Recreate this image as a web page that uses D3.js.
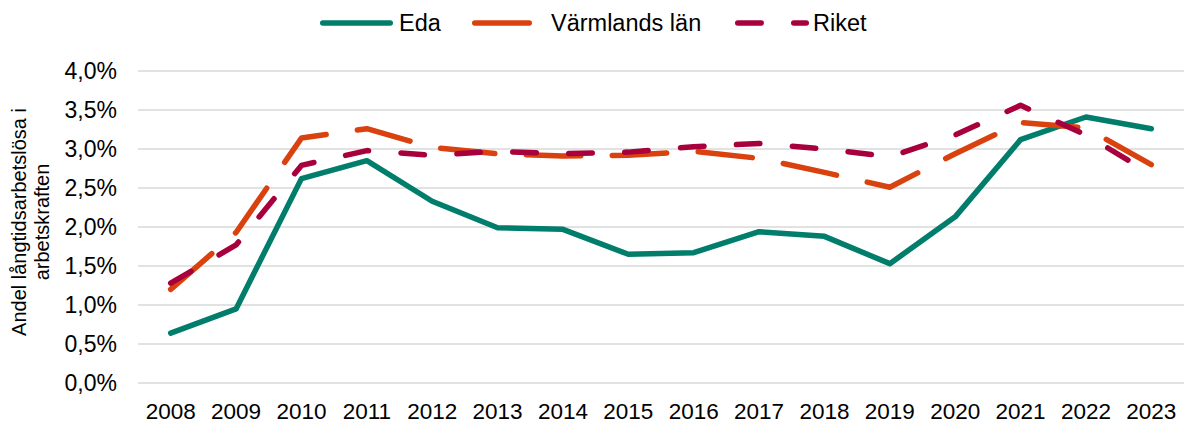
<!DOCTYPE html>
<html>
<head>
<meta charset="utf-8">
<script src="https://cdn.jsdelivr.net/npm/d3@7"></script>
<style>
  html, body { margin: 0; padding: 0; background: #fff; }
  svg { display: block; font-family: "Liberation Sans", Arial, sans-serif; }
</style>
</head>
<body>
<svg id="chart" width="1188" height="423"></svg>
<script>
const years = ["2008","2009","2010","2011","2012","2013","2014","2015","2016","2017","2018","2019","2020","2021","2022","2023"];
const eda = [0.64, 0.95, 2.62, 2.85, 2.33, 1.99, 1.97, 1.65, 1.67, 1.94, 1.88, 1.53, 2.13, 3.12, 3.41, 3.26];
const varmland = [1.20, 1.93, 3.14, 3.26, 3.02, 2.94, 2.91, 2.92, 2.97, 2.88, 2.70, 2.51, 2.94, 3.34, 3.27, 2.80];
const riket = [1.28, 1.77, 2.79, 2.98, 2.92, 2.97, 2.94, 2.96, 3.03, 3.07, 3.00, 2.90, 3.18, 3.56, 3.18, 2.68];
const yTicks = [0, 0.5, 1.0, 1.5, 2.0, 2.5, 3.0, 3.5, 4.0];
const seriesNames = ["Eda", "Värmlands län", "Riket"];
const seriesColors = ["#007D6B", "#D9410E", "#A8003D"];
const yTitleLines = ["Andel långtidsarbetslösa i", "arbetskraften"];

const series = [
  { name: seriesNames[0], values: eda, color: seriesColors[0], dash: null },
  { name: seriesNames[1], values: varmland, color: seriesColors[1], dash: "54.5,31.5" },
  { name: seriesNames[2], values: riket, color: seriesColors[2], dash: "23.5,32.5" }
];

const svg = d3.select("#chart");
const plotLeft = 138, plotRight = 1184, plotTop = 71, plotBottom = 383;

const x = d3.scaleBand().domain(years).range([plotLeft, plotRight]);
const xc = d => x(d) + x.bandwidth() / 2;
const y = d3.scaleLinear().domain([0, 4]).range([plotBottom, plotTop]);

// gridlines
svg.append("g").selectAll("line").data(yTicks).join("line")
  .attr("x1", plotLeft).attr("x2", plotRight)
  .attr("y1", d => y(d)).attr("y2", d => y(d))
  .attr("stroke", "#D9D9D9").attr("stroke-width", 1.5);

// y axis labels
const yAxis = d3.axisLeft(y).tickValues(yTicks).tickSize(0).tickPadding(0)
  .tickFormat(d => d.toFixed(1).replace(".", ",") + "%");
const gy = svg.append("g").attr("transform", `translate(117,0)`).call(yAxis);
gy.select(".domain").remove();
gy.selectAll("text").attr("font-size", 23).attr("fill", "#000")
  .attr("font-family", "Liberation Sans, Arial, sans-serif");

// x axis labels
const xAxis = d3.axisBottom(x).tickSize(0).tickPadding(0);
const gx = svg.append("g").attr("transform", `translate(0,403)`).call(xAxis);
gx.select(".domain").remove();
gx.selectAll("text").attr("font-size", 22.5).attr("fill", "#000")
  .attr("font-family", "Liberation Sans, Arial, sans-serif");

// lines
const line = d3.line().x((d, i) => xc(years[i])).y(d => y(d));
series.forEach(s => {
  svg.append("path").datum(s.values)
    .attr("d", line)
    .attr("fill", "none")
    .attr("stroke", s.color)
    .attr("stroke-width", 5.5)
    .attr("stroke-linecap", "round")
    .attr("stroke-linejoin", "round")
    .attr("stroke-dasharray", s.dash);
});

// y title
const yt = svg.append("text")
  .attr("transform", "translate(26,222) rotate(-90)")
  .attr("text-anchor", "middle")
  .attr("font-size", 20)
  .attr("fill", "#000");
yt.selectAll("tspan").data(yTitleLines).join("tspan")
  .attr("x", 0).attr("dy", (d, i) => i === 0 ? 0 : 23)
  .text(d => d);

// legend
const legendItems = [
  { x1: 322.75, x2: 390.25, tx: 399 },
  { x1: 474.75, x2: 532.25, tx: 551 },
  { x1: 737.75, x2: 806.25, tx: 813 }
];
const lg = svg.append("g");
series.forEach((s, i) => {
  const it = legendItems[i];
  lg.append("line")
    .attr("x1", it.x1).attr("x2", it.x2).attr("y1", 23).attr("y2", 23)
    .attr("stroke", s.color).attr("stroke-width", 5.5)
    .attr("stroke-linecap", "round")
    .attr("stroke-dasharray", s.dash);
  lg.append("text").attr("x", it.tx).attr("y", 31)
    .attr("font-size", 23.5).attr("fill", "#000").text(s.name);
});
</script>
</body>
</html>
